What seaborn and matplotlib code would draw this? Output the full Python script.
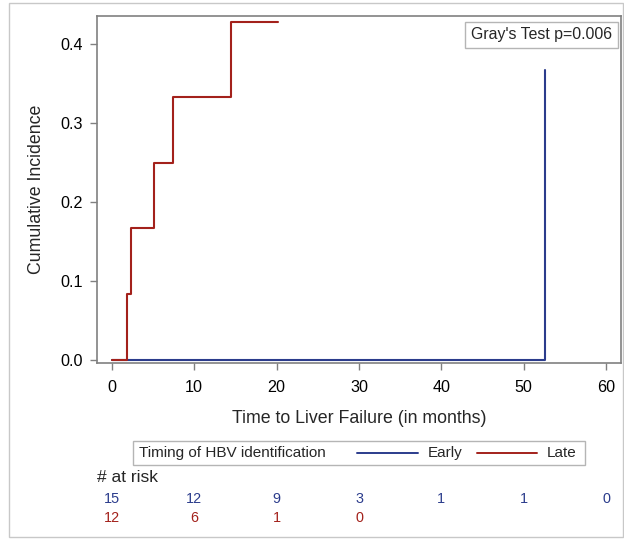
import numpy as np
import pandas as pd
import matplotlib
matplotlib.use("Agg")
import matplotlib.pyplot as plt
import matplotlib.transforms as mtransforms
from matplotlib.patches import Rectangle
from matplotlib.lines import Line2D
import seaborn as sns

# step curves
early_time = [0, 52.6]
early_cif = [0.0, 0.367]
late_time = [0, 1.8, 2.3, 5.15, 7.4, 14.5, 20.2]
late_cif = [0.0, 0.083, 0.167, 0.25, 0.333, 0.429, 0.429]

# numbers at risk
risk_times = [0, 10, 20, 30, 40, 50, 60]
early_risk = [15, 12, 9, 3, 1, 1, 0]
late_risk = [12, 6, 1, 0]

groups = ["Early", "Late"]
BLUE = "#2B3C8C"
RED = "#A3211B"
palette = {"Early": BLUE, "Late": RED}

df = pd.concat([
    pd.DataFrame({"time": early_time, "cif": early_cif, "group": "Early"}),
    pd.DataFrame({"time": late_time, "cif": late_cif, "group": "Late"}),
], ignore_index=True)

sns.set_style("ticks")
plt.rcParams["font.family"] = ["Liberation Sans", "DejaVu Sans"]

W, H = 624, 539
fig = plt.figure(figsize=(W / 100, H / 100), dpi=100)


def fx(x):
    return x / W


def fy(y):
    return 1 - y / H


ax = fig.add_axes([fx(97), fy(363), fx(621) - fx(97), fy(16) - fy(363)])

sns.lineplot(data=df, x="time", y="cif", hue="group", hue_order=groups,
             palette=palette, estimator=None, sort=False, legend=False,
             drawstyle="steps-post", linewidth=1.5, ax=ax)

ax.set_xlim(-1.8, 61.8)
ax.set_ylim(-0.004, 0.436)
ax.set_xticks(risk_times)
ax.set_yticks([0.0, 0.1, 0.2, 0.3, 0.4])
ax.set_yticklabels(["0.0", "0.1", "0.2", "0.3", "0.4"])
ax.tick_params(axis="both", labelsize=11.6, length=5, width=1, color="#808080",
               labelcolor="black")
ax.tick_params(axis="x", pad=7)
ax.tick_params(axis="y", pad=5)
for sp in ax.spines.values():
    sp.set_color("#808080")
    sp.set_linewidth(1.2)
    sp.set_visible(True)

ax.set_xlabel("Time to Liver Failure (in months)", fontsize=12.8, labelpad=11)
ax.set_ylabel("Cumulative Incidence", fontsize=12.8)
ax.yaxis.set_label_coords(-0.1, 0.5)

ax.text(fx(612), fy(35), "Gray's Test p=0.006", transform=fig.transFigure,
        ha="right", va="center", fontsize=11.4,
        bbox=dict(boxstyle="square,pad=0.35", fc="white", ec="#b5b5b5", lw=1))

# legend box under the axis
fig.add_artist(Rectangle((fx(133), fy(465)), fx(585) - fx(133), fy(441) - fy(465),
                         transform=fig.transFigure, fc="white", ec="#b5b5b5", lw=1))
fig.text(fx(139), fy(453), "Timing of HBV identification", fontsize=11,
         ha="left", va="center")
fig.add_artist(Line2D([fx(357), fx(418)], [fy(453), fy(453)], color=BLUE, lw=1.4,
                      transform=fig.transFigure))
fig.text(fx(428), fy(453), "Early", fontsize=11, ha="left", va="center")
fig.add_artist(Line2D([fx(477), fx(537)], [fy(453), fy(453)], color=RED, lw=1.4,
                      transform=fig.transFigure))
fig.text(fx(547), fy(453), "Late", fontsize=11, ha="left", va="center")

# at-risk table
fig.text(fx(97), fy(478), "# at risk", fontsize=12.5, ha="left", va="center")
trans = mtransforms.blended_transform_factory(ax.transData, fig.transFigure)
for t, n in zip(risk_times, early_risk):
    ax.text(t, fy(499), str(n), transform=trans, ha="center", va="center",
            fontsize=10.4, color=BLUE, clip_on=False)
for t, n in zip(risk_times, late_risk):
    ax.text(t, fy(518), str(n), transform=trans, ha="center", va="center",
            fontsize=10.4, color=RED, clip_on=False)

# outer frame
fig.add_artist(Rectangle((fx(9), fy(537)), fx(623) - fx(9), fy(3) - fy(537),
                         transform=fig.transFigure, fc="none", ec="#c8c8c8", lw=1))

fig.savefig("out.png", dpi=100)
